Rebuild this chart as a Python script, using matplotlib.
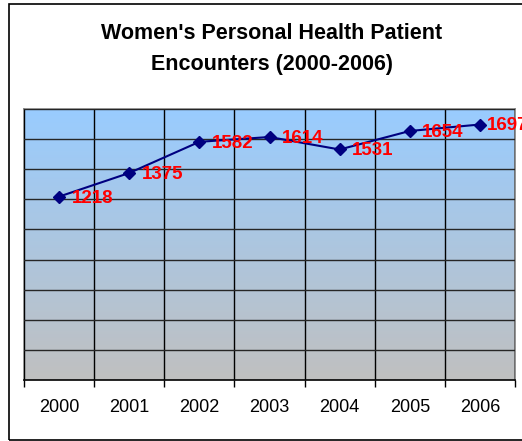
import matplotlib.pyplot as plt
import numpy as np
from matplotlib.colors import LinearSegmentedColormap
from matplotlib.patches import Rectangle

plt.rcParams["font.family"] = ["Liberation Sans", "DejaVu Sans"]

# data
years = ["2000", "2001", "2002", "2003", "2004", "2005", "2006"]
encounters = [1218, 1375, 1582, 1614, 1531, 1654, 1697]
y_max = 1800
y_step = 200

W, H = 522, 441
fig = plt.figure(figsize=(W / 100, H / 100), dpi=100)

# outer chart border
fig.patches.append(
    Rectangle((9 / W, 1 - 440 / H), 1.0, (440 - 4) / H, transform=fig.transFigure,
              fill=False, edgecolor="black", linewidth=1.2)
)

# title
fig.text(272 / W, 1 - 39 / H, "Women's Personal Health Patient", ha="center",
         va="baseline", fontsize=15.5, fontweight="bold")
fig.text(272 / W, 1 - 70 / H, "Encounters (2000-2006)", ha="center",
         va="baseline", fontsize=15.5, fontweight="bold")

left, right, top, bottom = 24, 515, 109, 380
ax = fig.add_axes([left / W, 1 - bottom / H, (right - left) / W, (bottom - top) / H])

x = np.arange(len(years))
ax.set_xlim(-0.5, len(years) - 0.5)
ax.set_ylim(0, y_max)

# gradient background (light blue top -> grey bottom)
cmap = LinearSegmentedColormap.from_list("bg", ["#c0c0c0", "#99ccff"])
grad = np.linspace(0, 1, 256).reshape(-1, 1)
ax.imshow(grad, cmap=cmap, aspect="auto", origin="lower",
          extent=(-0.5, len(years) - 0.5, 0, y_max), zorder=0)

# grid
ax.set_yticks(np.arange(0, y_max + 1, y_step))
ax.set_xticks(x)
ax.set_xticks(np.arange(-0.5, len(years), 1), minor=True)
ax.grid(True, axis="y", which="major", color="#262626", linewidth=1.0, zorder=1)
ax.grid(True, axis="x", which="minor", color="black", linewidth=1.0, zorder=1)
ax.set_axisbelow(False)
ax.tick_params(axis="y", left=False, labelleft=False)
ax.tick_params(axis="x", which="major", length=0, pad=14, labelsize=13)
ax.tick_params(axis="x", which="minor", length=5, width=1, color="black")
ax.set_xticklabels(years)

for side in ["left", "top", "right"]:
    ax.spines[side].set_color("#808080")
    ax.spines[side].set_linewidth(1.2)
ax.spines["bottom"].set_color("black")
ax.spines["bottom"].set_linewidth(1.2)

ax.plot(x, encounters, color="#000080", linewidth=1.5, marker="D",
        markersize=6, zorder=3, clip_on=False)

for i, (xi, v) in enumerate(zip(x, encounters)):
    dx = 5 if i == len(encounters) - 1 else 9
    ax.annotate(str(v), (xi, v), xytext=(dx, -1), textcoords="offset points",
                ha="left", va="center", color="#ff0000", fontsize=13.5,
                fontweight="bold", annotation_clip=False, zorder=4)

fig.savefig("out.png", dpi=100)
